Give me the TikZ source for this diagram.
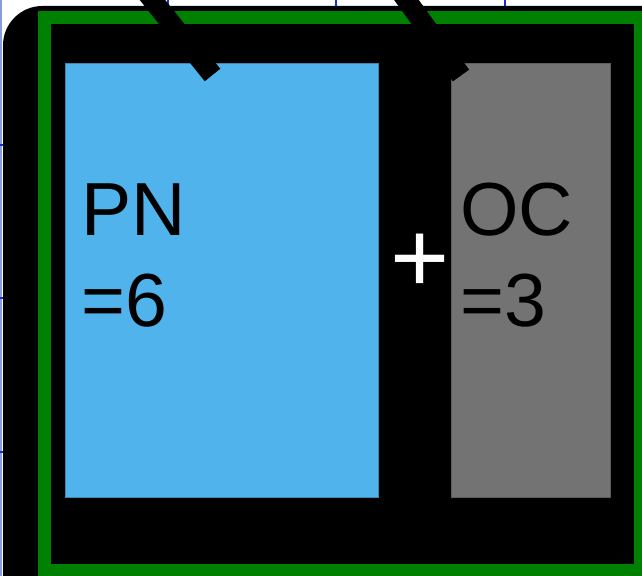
\documentclass[tikz,border=0pt]{standalone}
\usepackage{fontspec}
\setmainfont{Liberation Sans}
\definecolor{skyfill}{HTML}{50B3EC}
\definecolor{slatefill}{HTML}{737373}
\definecolor{framegreen}{HTML}{008000}
\definecolor{gridblue}{HTML}{1030D8}
\definecolor{gridpale}{HTML}{8C9AE0}
\usepackage{tikz}
\usetikzlibrary{positioning}

\begin{document}
\begin{tikzpicture}[x=0.025cm, y=-0.025cm,
  part/.style={rectangle, line width=0.7pt, inner sep=0pt},
  lbl/.style={inner sep=0pt, anchor=base west, font=\fontsize{53.5}{64}\selectfont},
  edge/.style={line width=14.2pt, black, line cap=butt},
  tick/.style={gridblue, line width=1.4pt}
]
  \clip (0,0) rectangle (642,576);
  \fill[white] (0,0) rectangle (642,576);
  % grid marks at the edges
  \draw[gridpale, line width=1.1pt] (0.8,0) -- (0.8,576);
  \foreach \y in {145,298,452} \draw[tick] (0,\y) -- (3,\y);
  \foreach \x in {168,336,505} \draw[tick] (\x,0) -- (\x,6);
  % outer panel and frame
  \fill[black, rounded corners=28pt] (3,6) rectangle (720,660);
  \draw[framegreen, line width=9.25pt] (44.5,17.5) rectangle (640.5,570.5);
  % parts
  \node[part, draw=skyfill!75!black, fill=skyfill, minimum width=313*0.025cm,
    minimum height=434*0.025cm, anchor=north west] (pnbox) at (65,63) {};
  \node[part, draw=slatefill!80!black, fill=slatefill, minimum width=159*0.025cm,
    minimum height=434*0.025cm, anchor=north west] (ocbox) at (451,63) {};
  % incoming edges
  \coordinate (pnsrc) at (136.5,-20);
  \coordinate (pnend) at (212.5,75);
  \coordinate (ocsrc) at (392,-20);
  \coordinate (ocend) at (461,75.5);
  \draw[edge] (pnsrc) -- (pnend);
  \draw[edge] (ocsrc) -- (ocend);
  % labels
  \node[lbl] (pnname) at (81,236) {PN};
  \node[lbl] (pnval) at (81,326) {=6};
  \node[lbl] (ocname) at (460,236) {OC};
  \node[lbl] (ocval) at (460,326) {=3};
  \node[inner sep=0pt, white, font=\fontsize{72}{80}\selectfont] (plus) at (420.5,263.5) {+};
\end{tikzpicture}
\end{document}
